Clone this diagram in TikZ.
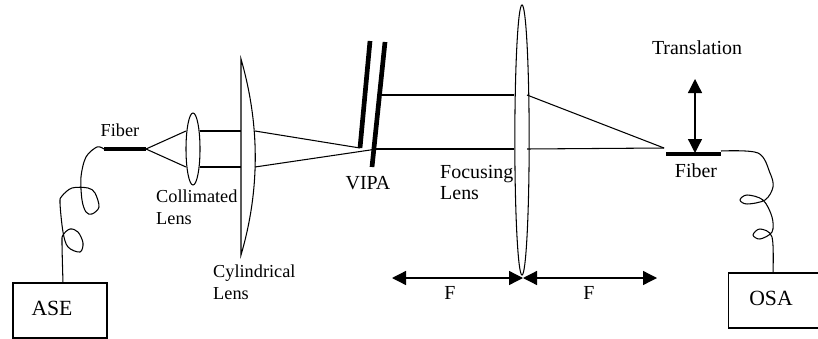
\documentclass[tikz,border=0pt]{standalone}
\usepackage{fontspec}
\setmainfont{Liberation Serif}
\usepackage{tikz}
\usetikzlibrary{positioning,arrows.meta,shapes.geometric}

\tikzset{
  lbl/.style={inner sep=0pt,font=\fontsize{15.6}{18.7}\selectfont,align=left},
  lblmid/.style={lbl,font=\fontsize{17}{18.7}\selectfont},
  lblbig/.style={lbl,font=\fontsize{18.5}{20}\selectfont},
  instr/.style={draw,line width=0.9pt,minimum width=2.82cm,minimum height=1.65cm,inner sep=0pt},
  lensnode/.style={draw,ellipse,line width=0.9pt,inner sep=0pt},
  ray/.style={line width=0.9pt},
  fibertip/.style={line width=3.6pt},
  plate/.style={line width=4pt},
  strand/.style={line width=0.9pt},
  span/.style={line width=1.1pt,{Triangle[length=0.42cm,width=0.42cm]}-{Triangle[length=0.42cm,width=0.42cm]}},
}

\begin{document}
\begin{tikzpicture}[x=0.03cm,y=-0.03cm]
    \useasboundingbox (0,0) rectangle (818,339);
    % Boxes at both ends
    \node[instr] (ase) at (60,310.5) {};
    \node[lblbig] (asetext) at (52,308) {ASE};
    \node[instr] (osa) at (775.5,300.5) {};
    \node[lblbig] (osatext) at (771,298) {OSA};
    % Lenses
    \node[lensnode,minimum width=0.42cm,minimum height=2.16cm] (collim) at (193,149) {};
    \node[lensnode,minimum width=0.43cm,minimum height=8.1cm] (focus) at (522,140) {};
    \coordinate (cyltop) at (241,59);
    \coordinate (cylbot) at (241,255);
    \draw[ray] (cyltop) .. controls (260,125) and (260,190) .. (cylbot) -- cycle;
    % Fiber ends
    \coordinate (tipAw) at (104,149);
    \coordinate (tipAe) at (146,149);
    \coordinate (tipBw) at (666,154);
    \coordinate (tipBe) at (721,154);
    \draw[fibertip] (tipAw) -- (tipAe);
    \draw[fibertip] (tipBw) -- (tipBe);
    % VIPA plates
    \coordinate (plateAt) at (370,41);
    \coordinate (plateAb) at (360,148);
    \coordinate (plateBt) at (385,42);
    \coordinate (plateBb) at (372,167);
    \draw[plate] (plateAt) -- (plateAb);
    \draw[plate] (plateBt) -- (plateBb);
    % Rays
    \coordinate (colU) at (186,131);
    \coordinate (colL) at (186,167);
    \coordinate (colUr) at (200,131);
    \coordinate (colLr) at (200,167);
    \coordinate (cylU) at (241,131);
    \coordinate (cylL) at (241,167);
    \coordinate (cylUr) at (255,131);
    \coordinate (cylLr) at (255,167);
    \coordinate (vipaL) at (377,149);
    \coordinate (vipaU) at (381,95);
    \coordinate (vipaM) at (375,149);
    \coordinate (focU) at (514,95);
    \coordinate (focM) at (514,149);
    \coordinate (focUr) at (527,95);
    \coordinate (focMr) at (527,149);
    \coordinate (spot) at (664,148);
    \foreach \a/\b in {tipAe/colU, tipAe/colL, colUr/cylU, colLr/cylL, cylUr/plateAb,
                       cylLr/vipaL, vipaU/focU, vipaM/focM, focUr/spot, focMr/spot} {
      \draw[ray] (\a) -- (\b);
    }
    % Coiled fibers
    \coordinate (asetop) at (63,283);
    \coordinate (osatop) at (773,273);
    \coordinate (tipBo) at (721,151);
    \draw[strand] plot[smooth,tension=0.55] coordinates {(tipAw) (97,147) (86,157) (81,177) (82,200)
      (86,212) (92,214) (99,207) (95,193) (88,188) (72,188) (62,196) (60,203) (63,232) (68,247)
      (80,252) (83,243) (78,232) (70,229) (63,235) (62,243) (asetop)};
    \draw[strand] plot[smooth,tension=0.55] coordinates {(tipBo) (758,153) (770,173) (773,187)
      (765,200) (747,204) (740,200) (747,195) (763,200) (772,217) (772,232) (760,239) (753,235)
      (760,229) (772,237) (osatop)};
    % Translation and focal spans
    \coordinate (trTop) at (695,79);
    \coordinate (trBot) at (695,153);
    \coordinate (spanL) at (392,278);
    \coordinate (spanM) at (523,278);
    \coordinate (spanR) at (657,278);
    \draw[span] (trTop) -- (trBot);
    \draw[span] (spanL) -- (spanM);
    \draw[span] (spanM) -- (spanR);
    % Labels
    \node[lbl] (fibA) at (120,130) {Fiber};
    \node[lbl,anchor=west] (collab) at (156,207) {Collimated\\Lens};
    \node[lbl,anchor=west] (cyllab) at (213,282.5) {Cylindrical\\Lens};
    \node[lblmid] (vipalab) at (368,183) {VIPA};
    \node[lblmid,anchor=west] (foclab) at (440,182.5) {Focusing\\Lens};
    \node[lblmid] (translab) at (697,48) {Translation};
    \node[lblmid] (fibB) at (696,171) {Fiber};
    \node[lblmid] (fA) at (450,293) {F};
    \node[lblmid] (fB) at (589,293) {F};
  \end{tikzpicture}
\end{document}
